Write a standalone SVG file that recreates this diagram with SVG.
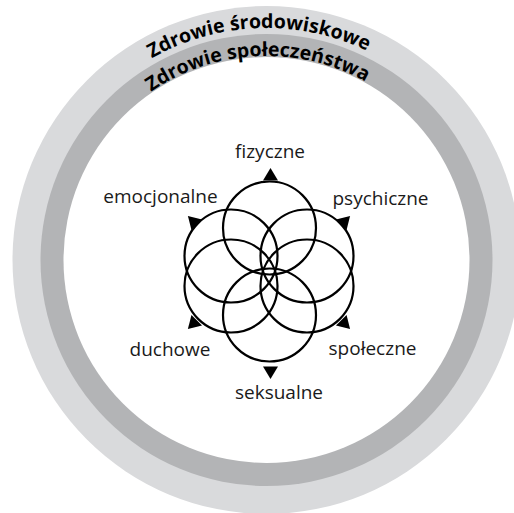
<svg xmlns="http://www.w3.org/2000/svg" xmlns:xlink="http://www.w3.org/1999/xlink" width="514" height="513" viewBox="0 0 514 513">
<style>
.ring-text{font-family:"Open Sans","Noto Sans",sans-serif;font-weight:700;font-size:19.5px;fill:#000}
.lbl{font-family:"Open Sans","Noto Sans",sans-serif;font-size:19px;fill:#1a1a1a;text-anchor:middle}
.petal{fill:none;stroke:#000;stroke-width:2.2}
.tri{fill:#000}
</style>
<defs>
<path id="arcOuter" d="M 34.5 260 A 232 232 0 0 1 498.5 260"/>
<path id="arcInner" d="M 62.5 260 A 204 204 0 0 1 470.5 260"/>
</defs>
<rect width="514" height="513" fill="#fff"/>
<g id="ring-environment">
<circle cx="266.5" cy="260" r="254" fill="#d9dadc"/>
<text class="ring-text"><textPath xlink:href="#arcOuter" href="#arcOuter" startOffset="48.9%" text-anchor="middle">Zdrowie środowiskowe</textPath></text>
</g>
<g id="ring-society">
<circle cx="266.5" cy="260" r="226" fill="#b3b4b6"/>
<circle cx="266.5" cy="260" r="203" fill="#fff"/>
<text class="ring-text"><textPath xlink:href="#arcInner" href="#arcInner" startOffset="48.5%" text-anchor="middle">Zdrowie społeczeństwa</textPath></text>
</g>
<g id="connectors" class="tri">
<polygon points="270.5,168 278,180.5 263,180.5"/>
<polygon transform="translate(270.5,372.5) rotate(180)" points="0,-6.5 7.5,6 -7.5,6"/>
<polygon transform="translate(192.5,220.5) rotate(-45)" points="0,-6.5 7.5,6 -7.5,6"/>
<polygon transform="translate(345.5,220.5) rotate(45)" points="0,-6.5 7.5,6 -7.5,6"/>
<polygon transform="translate(345.5,324.5) rotate(135)" points="0,-6.5 7.5,6 -7.5,6"/>
<polygon transform="translate(192.5,324.5) rotate(-135)" points="0,-6.5 7.5,6 -7.5,6"/>
</g>
<g id="node-fizyczne"><circle class="petal" cx="269.5" cy="228" r="46.5"/><text class="lbl" x="270" y="158">fizyczne</text></g>
<g id="node-psychiczne"><circle class="petal" cx="307" cy="256" r="46.5"/><text class="lbl" x="380.5" y="205">psychiczne</text></g>
<g id="node-spoleczne"><circle class="petal" cx="307" cy="286" r="46.5"/><text class="lbl" x="372.5" y="355">społeczne</text></g>
<g id="node-seksualne"><circle class="petal" cx="269.5" cy="315" r="46.5"/><text class="lbl" x="279" y="399">seksualne</text></g>
<g id="node-duchowe"><circle class="petal" cx="231" cy="286" r="46.5"/><text class="lbl" x="170" y="356">duchowe</text></g>
<g id="node-emocjonalne"><circle class="petal" cx="231" cy="256" r="46.5"/><text class="lbl" x="160.5" y="203">emocjonalne</text></g>
</svg>
